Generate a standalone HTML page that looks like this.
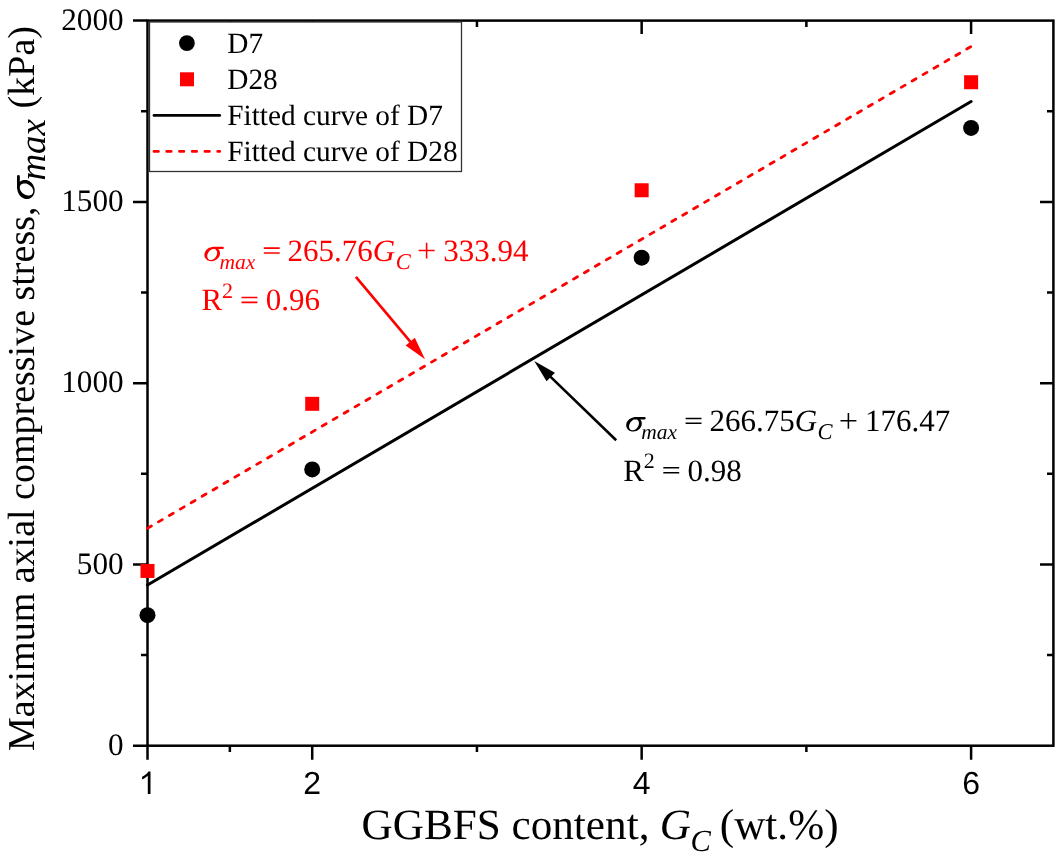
<!DOCTYPE html>
<html><head><meta charset="utf-8"><style>
html,body{margin:0;padding:0;background:#fff;}
svg{display:block;will-change:transform;filter:blur(0.35px);}
text{text-rendering:geometricPrecision;}
</style></head><body>
<svg width="1062" height="866" viewBox="0 0 1062 866">
<rect width="1062" height="866" fill="#fff"/>
<path d="M133 745.70H147.5 M133 564.43H147.5 M1053.4 564.43H1040 M133 383.15H147.5 M1053.4 383.15H1040 M133 201.88H147.5 M1053.4 201.88H1040 M133 20.60H147.5 M141 655.06H147.5 M1053.4 655.06H1047 M141 473.79H147.5 M1053.4 473.79H1047 M141 292.51H147.5 M1053.4 292.51H1047 M141 111.24H147.5 M1053.4 111.24H1047 M147.50 745.7V759.7 M312.22 745.7V759.7 M312.22 20.6V34 M641.66 745.7V759.7 M641.66 20.6V34 M971.10 745.7V759.7 M971.10 20.6V34 M229.86 745.7V752 M229.86 20.6V27 M476.94 745.7V752 M476.94 20.6V27 M806.38 745.7V752 M806.38 20.6V27" stroke="#000" stroke-width="2.5" fill="none"/>
<rect x="147.5" y="20.6" width="905.9000000000001" height="725.1" stroke="#000" stroke-width="2.5" fill="none"/>
<line x1="147.50" y1="528.28" x2="971.10" y2="46.52" stroke="#f00" stroke-width="2.8" stroke-dasharray="4.5 8.155" stroke-linecap="round"/>
<line x1="147.50" y1="585.01" x2="971.10" y2="101.46" stroke="#000" stroke-width="3" stroke-linecap="round"/>
<circle cx="147.50" cy="615.18" r="8" fill="#000"/>
<circle cx="312.22" cy="469.44" r="8" fill="#000"/>
<circle cx="641.66" cy="257.71" r="8" fill="#000"/>
<circle cx="971.10" cy="127.91" r="8" fill="#000"/>
<rect x="140.50" y="563.95" width="14" height="14" fill="#f00"/>
<rect x="305.22" y="396.82" width="14" height="14" fill="#f00"/>
<rect x="634.66" y="183.27" width="14" height="14" fill="#f00"/>
<rect x="964.10" y="75.23" width="14" height="14" fill="#f00"/>
<rect x="149.5" y="22" width="312" height="149.5" fill="#fff" stroke="#333" stroke-width="1.3"/>
<circle cx="186.9" cy="43.1" r="7.9" fill="#000"/>
<rect x="180" y="72.3" width="14" height="14" fill="#f00"/>
<line x1="154" y1="115.4" x2="219.7" y2="115.4" stroke="#000" stroke-width="2.8" stroke-linecap="round"/>
<line x1="154" y1="151.4" x2="219.7" y2="151.4" stroke="#f00" stroke-width="2.8" stroke-dasharray="4.4 8.35" stroke-linecap="round"/>
<text x="227.3" y="52.7" font-family="Liberation Serif" font-size="29.3">D7</text>
<text x="227.3" y="89" font-family="Liberation Serif" font-size="29.3">D28</text>
<text x="227.3" y="125" font-family="Liberation Serif" font-size="29.3">Fitted curve of D7</text>
<text x="227.3" y="160.6" font-family="Liberation Serif" font-size="29.3">Fitted curve of D28</text>
<text x="123.6" y="754.90" text-anchor="end" font-family="Liberation Serif" font-size="31.2">0</text>
<text x="123.6" y="573.63" text-anchor="end" font-family="Liberation Serif" font-size="31.2">500</text>
<text x="123.6" y="392.35" text-anchor="end" font-family="Liberation Serif" font-size="31.2">1000</text>
<text x="123.6" y="211.08" text-anchor="end" font-family="Liberation Serif" font-size="31.2">1500</text>
<text x="123.6" y="29.80" text-anchor="end" font-family="Liberation Serif" font-size="31.2">2000</text>
<text x="312.22" y="793.6" text-anchor="middle" font-family="Liberation Sans" font-size="32">2</text>
<text x="641.66" y="793.6" text-anchor="middle" font-family="Liberation Sans" font-size="32">4</text>
<text x="971.10" y="793.6" text-anchor="middle" font-family="Liberation Sans" font-size="32">6</text>
<path d="M150.5 771.5V793.9H147.8V775.8C146.3 777.2 144.2 778.7 142.1 779.5V776.7C144.6 775.6 147 773.8 148.4 771.5Z" fill="#000"/>
<text x="361.5" y="839" font-family="Liberation Serif" font-size="43.2">GGBFS content,</text>
<text x="659.7" y="839" font-family="Liberation Serif" font-size="43.2" font-style="italic">G</text>
<text x="690.5" y="850.8" font-family="Liberation Serif" font-size="30.5" font-style="italic">C</text>
<text x="719.8" y="839" font-family="Liberation Serif" font-size="43.2">(wt.%)</text>
<g transform="translate(33.8 751.1) rotate(-90)"><text x="0" y="0" font-family="Liberation Serif" font-size="38">Maximum axial compressive stress,</text><path transform="translate(552.2 1.0) scale(1.226) translate(-204.5 -261.3)" d="M219.45 250.72L219.77 251.56L219.96 252.45L220.01 253.37L219.94 254.30L219.73 255.22L219.39 256.13L218.93 257.00L218.35 257.83L217.67 258.58L216.89 259.27L216.04 259.86L215.12 260.35L214.14 260.74L213.14 261.02L212.12 261.17L211.10 261.21L210.10 261.12L209.14 260.91L208.22 260.59L207.38 260.15L206.62 259.62L205.95 258.98L205.39 258.27L204.95 257.48L204.63 256.64L204.44 255.75L204.39 254.83L204.46 253.90L204.67 252.98L205.01 252.07L205.47 251.20L206.05 250.37L206.73 249.62L207.51 248.93L208.36 248.34L209.28 247.85L210.26 247.46L211.26 247.18L212.28 247.03L213.30 246.99L214.30 247.08L215.26 247.29L216.18 247.61L217.02 248.05L217.78 248.58L218.45 249.22L219.01 249.93ZM215.15 249.31L214.61 249.11L214.03 249.02L213.42 249.01L212.79 249.10L212.14 249.28L211.50 249.55L210.87 249.91L210.26 250.34L209.69 250.85L209.16 251.41L208.68 252.03L208.26 252.70L207.91 253.39L207.63 254.10L207.43 254.82L207.31 255.54L207.28 256.23L207.33 256.90L207.46 257.52L207.67 258.10L207.96 258.61L208.33 259.05L208.76 259.41L209.25 259.69L209.79 259.89L210.37 259.98L210.98 259.99L211.61 259.90L212.26 259.72L212.90 259.45L213.53 259.09L214.14 258.66L214.71 258.15L215.24 257.59L215.72 256.97L216.14 256.30L216.49 255.61L216.77 254.90L216.97 254.18L217.09 253.46L217.12 252.77L217.07 252.10L216.94 251.48L216.73 250.90L216.44 250.39L216.07 249.95L215.64 249.59ZM212.5 246.8H222.75A1.15 1.15 0 0 1 222.75 249.1H212.5Z" fill="#000"/><text x="570.5" y="11" font-family="Liberation Serif" font-size="37" font-style="italic">max</text><text x="642.7" y="0" font-family="Liberation Serif" font-size="38">(kPa)</text></g>
<g><path d="M219.45 250.72L219.77 251.56L219.96 252.45L220.01 253.37L219.94 254.30L219.73 255.22L219.39 256.13L218.93 257.00L218.35 257.83L217.67 258.58L216.89 259.27L216.04 259.86L215.12 260.35L214.14 260.74L213.14 261.02L212.12 261.17L211.10 261.21L210.10 261.12L209.14 260.91L208.22 260.59L207.38 260.15L206.62 259.62L205.95 258.98L205.39 258.27L204.95 257.48L204.63 256.64L204.44 255.75L204.39 254.83L204.46 253.90L204.67 252.98L205.01 252.07L205.47 251.20L206.05 250.37L206.73 249.62L207.51 248.93L208.36 248.34L209.28 247.85L210.26 247.46L211.26 247.18L212.28 247.03L213.30 246.99L214.30 247.08L215.26 247.29L216.18 247.61L217.02 248.05L217.78 248.58L218.45 249.22L219.01 249.93ZM215.15 249.31L214.61 249.11L214.03 249.02L213.42 249.01L212.79 249.10L212.14 249.28L211.50 249.55L210.87 249.91L210.26 250.34L209.69 250.85L209.16 251.41L208.68 252.03L208.26 252.70L207.91 253.39L207.63 254.10L207.43 254.82L207.31 255.54L207.28 256.23L207.33 256.90L207.46 257.52L207.67 258.10L207.96 258.61L208.33 259.05L208.76 259.41L209.25 259.69L209.79 259.89L210.37 259.98L210.98 259.99L211.61 259.90L212.26 259.72L212.90 259.45L213.53 259.09L214.14 258.66L214.71 258.15L215.24 257.59L215.72 256.97L216.14 256.30L216.49 255.61L216.77 254.90L216.97 254.18L217.09 253.46L217.12 252.77L217.07 252.10L216.94 251.48L216.73 250.90L216.44 250.39L216.07 249.95L215.64 249.59ZM212.5 246.8H222.75A1.15 1.15 0 0 1 222.75 249.1H212.5Z" fill="#f00"/><text x="219.5" y="269.2" font-family="Liberation Serif" fill="#f00" font-size="21.5" font-style="italic">max</text><path d="M263.8 248.1H279.7M263.8 252.9H279.7M418.7 250.4H434.6M426.6 242.8V258.4M241.5 297.5H257.4M241.5 302.35H257.4" stroke="#f00" stroke-width="1.55" fill="none"/><text x="287.6" y="260.6" font-family="Liberation Serif" fill="#f00" font-size="31">265.76</text><text x="372.85" y="260.6" font-family="Liberation Serif" fill="#f00" font-size="31" font-style="italic">G</text><text x="395.8" y="269" font-family="Liberation Serif" fill="#f00" font-size="22.5" font-style="italic">C</text><text x="443.15" y="260.6" font-family="Liberation Serif" fill="#f00" font-size="31">333.94</text><text x="201.4" y="310.3" font-family="Liberation Serif" fill="#f00" font-size="31">R</text><text x="221.9" y="297.6" font-family="Liberation Serif" fill="#f00" font-size="22">2</text><text x="265.8" y="310.3" font-family="Liberation Serif" fill="#f00" font-size="31">0.96</text></g>
<g transform="translate(421.8 170.3)"><path d="M219.45 250.72L219.77 251.56L219.96 252.45L220.01 253.37L219.94 254.30L219.73 255.22L219.39 256.13L218.93 257.00L218.35 257.83L217.67 258.58L216.89 259.27L216.04 259.86L215.12 260.35L214.14 260.74L213.14 261.02L212.12 261.17L211.10 261.21L210.10 261.12L209.14 260.91L208.22 260.59L207.38 260.15L206.62 259.62L205.95 258.98L205.39 258.27L204.95 257.48L204.63 256.64L204.44 255.75L204.39 254.83L204.46 253.90L204.67 252.98L205.01 252.07L205.47 251.20L206.05 250.37L206.73 249.62L207.51 248.93L208.36 248.34L209.28 247.85L210.26 247.46L211.26 247.18L212.28 247.03L213.30 246.99L214.30 247.08L215.26 247.29L216.18 247.61L217.02 248.05L217.78 248.58L218.45 249.22L219.01 249.93ZM215.15 249.31L214.61 249.11L214.03 249.02L213.42 249.01L212.79 249.10L212.14 249.28L211.50 249.55L210.87 249.91L210.26 250.34L209.69 250.85L209.16 251.41L208.68 252.03L208.26 252.70L207.91 253.39L207.63 254.10L207.43 254.82L207.31 255.54L207.28 256.23L207.33 256.90L207.46 257.52L207.67 258.10L207.96 258.61L208.33 259.05L208.76 259.41L209.25 259.69L209.79 259.89L210.37 259.98L210.98 259.99L211.61 259.90L212.26 259.72L212.90 259.45L213.53 259.09L214.14 258.66L214.71 258.15L215.24 257.59L215.72 256.97L216.14 256.30L216.49 255.61L216.77 254.90L216.97 254.18L217.09 253.46L217.12 252.77L217.07 252.10L216.94 251.48L216.73 250.90L216.44 250.39L216.07 249.95L215.64 249.59ZM212.5 246.8H222.75A1.15 1.15 0 0 1 222.75 249.1H212.5Z" fill="#000"/><text x="219.5" y="269.2" font-family="Liberation Serif" fill="#000" font-size="21.5" font-style="italic">max</text><path d="M263.8 248.1H279.7M263.8 252.9H279.7M418.7 250.4H434.6M426.6 242.8V258.4M241.5 297.5H257.4M241.5 302.35H257.4" stroke="#000" stroke-width="1.55" fill="none"/><text x="287.6" y="260.6" font-family="Liberation Serif" fill="#000" font-size="31">266.75</text><text x="372.85" y="260.6" font-family="Liberation Serif" fill="#000" font-size="31" font-style="italic">G</text><text x="395.8" y="269" font-family="Liberation Serif" fill="#000" font-size="22.5" font-style="italic">C</text><text x="443.15" y="260.6" font-family="Liberation Serif" fill="#000" font-size="31">176.47</text><text x="201.4" y="310.3" font-family="Liberation Serif" fill="#000" font-size="31">R</text><text x="221.9" y="297.6" font-family="Liberation Serif" fill="#000" font-size="22">2</text><text x="265.8" y="310.3" font-family="Liberation Serif" fill="#000" font-size="31">0.98</text></g>
<line x1="355.9" y1="276.8" x2="411.52" y2="343.20" stroke="#f00" stroke-width="2.6"/><polygon points="425,359.3 405.63,345.52 414.83,337.82" fill="#f00"/>
<line x1="616.2" y1="440.3" x2="549.30" y2="375.60" stroke="#000" stroke-width="2.6"/><polygon points="534.2,361 554.90,372.68 546.56,381.30" fill="#000"/>
</svg>
</body></html>
